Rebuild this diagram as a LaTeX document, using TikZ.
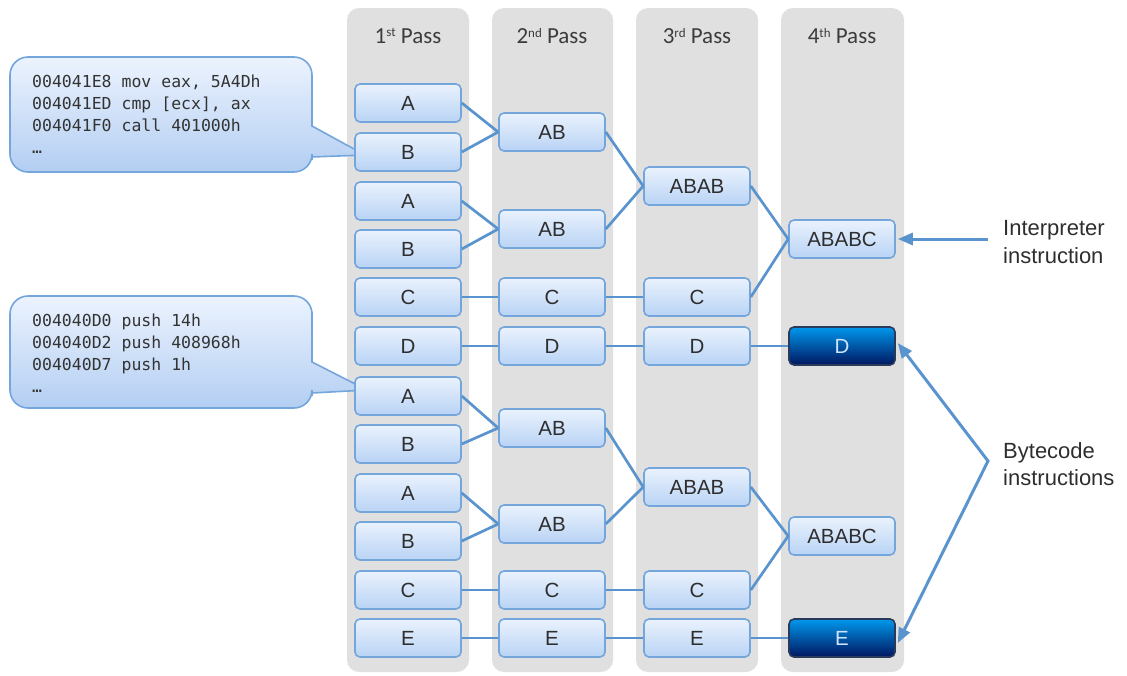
\documentclass[tikz,border=0pt]{standalone}
\usepackage{fontspec}
\setmainfont{Liberation Sans}
\newfontfamily\hdrfont{Carlito}
\newfontfamily\codefont{DejaVu Sans Mono}
\usetikzlibrary{arrows.meta}
\definecolor{colgray}{HTML}{E0E0E0}
\definecolor{boxtop}{HTML}{EAF2FD}
\definecolor{boxbot}{HTML}{B9D3F5}
\definecolor{boxborder}{HTML}{74A6DC}
\definecolor{linkcol}{HTML}{5A94CE}
\definecolor{darktop}{HTML}{0098EC}
\definecolor{darkbot}{HTML}{001660}
\definecolor{darkborder}{HTML}{2A3A5A}
\definecolor{darktext}{HTML}{CFE4FF}
\definecolor{textgray}{HTML}{2E2E2E}
\definecolor{hdrgray}{HTML}{3C3C3C}
\definecolor{bubtop}{HTML}{ECF3FE}
\definecolor{bubbot}{HTML}{B3CEF2}
\newcommand{\passsup}[1]{\raisebox{0.62ex}{\fontsize{13}{13}\selectfont #1}}
\tikzset{
  passcol/.style={fill=colgray, rounded corners=12},
  hdr/.style={font=\hdrfont\fontsize{23}{26}\selectfont, text=hdrgray, inner sep=0},
  pbox/.style={draw=boxborder, line width=1.6, rounded corners=5,
    minimum width=106, minimum height=38, inner sep=0,
    top color=boxtop, bottom color=boxbot,
    font=\fontsize{20.5}{24}\selectfont, text=textgray},
  dbox/.style={pbox, draw=darkborder, top color=darktop, bottom color=darkbot, text=darktext},
  link/.style={draw=linkcol, line width=2.7},
  arrowline/.style={draw=linkcol, line width=3, >={Triangle[length=15, width=12]}},
  bubble/.style={draw=boxborder, line width=1.6, top color=bubtop, bottom color=bubbot},
  code/.style={font=\codefont\fontsize{16.5}{22}\selectfont, text=black!80, align=left, inner sep=0, anchor=north west},
  lbl/.style={font=\fontsize{22}{27.5}\selectfont, text=textgray, align=left, inner sep=0, anchor=west}
}
\begin{document}
\begin{tikzpicture}[x=1pt,y=-1pt]
\useasboundingbox (0,0) rectangle (1127,675);
% columns
\fill[passcol] (347,8) rectangle (469,672);
\fill[passcol] (492,8) rectangle (613,672);
\fill[passcol] (636,8) rectangle (758,672);
\fill[passcol] (781,8) rectangle (904,672);
\node[hdr] (h1) at (408,36) {1\passsup{st} Pass};
\node[hdr] (h2) at (552,36) {2\passsup{nd} Pass};
\node[hdr] (h3) at (697,36) {3\passsup{rd} Pass};
\node[hdr] (h4) at (842,36) {4\passsup{th} Pass};
% bubbles
\path[bubble] (10,110) [rounded corners=18] -- (10,57) -- (312,57) -- (312,95) [sharp corners] -- (312,126) -- (365,155) -- (312,157) -- (312,160) [rounded corners=18] -- (312,172) -- (10,172) -- cycle;
\node[code] (code1) at (32,74.5) {004041E8 mov eax, 5A4Dh\\004041ED cmp [ecx], ax\\004041F0 call 401000h\\…};
\path[bubble] (10,350) [rounded corners=18] -- (10,296) -- (312,296) -- (312,330) [sharp corners] -- (312,362) -- (367,390) -- (312,393) -- (312,396) [rounded corners=18] -- (312,408) -- (10,408) -- cycle;
\node[code] (code2) at (32,313.5) {004040D0 push 14h\\004040D2 push 408968h\\004040D7 push 1h\\…};
% column 1
\node[pbox] (a1) at (408,103) {A};
\node[pbox] (a2) at (408,152) {B};
\node[pbox] (a3) at (408,201) {A};
\node[pbox] (a4) at (408,249) {B};
\node[pbox] (a5) at (408,297) {C};
\node[pbox] (a6) at (408,346) {D};
\node[pbox] (a7) at (408,396) {A};
\node[pbox] (a8) at (408,444) {B};
\node[pbox] (a9) at (408,493) {A};
\node[pbox] (a10) at (408,541) {B};
\node[pbox] (a11) at (408,590) {C};
\node[pbox] (a12) at (408,638) {E};
% column 2
\node[pbox] (b1) at (552,132) {AB};
\node[pbox] (b2) at (552,229) {AB};
\node[pbox] (b3) at (552,297) {C};
\node[pbox] (b4) at (552,346) {D};
\node[pbox] (b5) at (552,428) {AB};
\node[pbox] (b6) at (552,524) {AB};
\node[pbox] (b7) at (552,590) {C};
\node[pbox] (b8) at (552,638) {E};
% column 3
\node[pbox] (c1) at (697,186) {ABAB};
\node[pbox] (c2) at (697,297) {C};
\node[pbox] (c3) at (697,346) {D};
\node[pbox] (c4) at (697,487) {ABAB};
\node[pbox] (c5) at (697,590) {C};
\node[pbox] (c6) at (697,638) {E};
% column 4
\node[pbox] (d1) at (842,239) {ABABC};
\node[dbox] (d2) at (842,346) {D};
\node[pbox] (d3) at (842,536) {ABABC};
\node[dbox] (d4) at (842,638) {E};
% links
\draw[link] (a1.east) -- (b1.west);
\draw[link] (a2.east) -- (b1.west);
\draw[link] (a3.east) -- (b2.west);
\draw[link] (a4.east) -- (b2.west);
\draw[link] (a5.east) -- (b3.west);
\draw[link] (a6.east) -- (b4.west);
\draw[link] (a7.east) -- (b5.west);
\draw[link] (a8.east) -- (b5.west);
\draw[link] (a9.east) -- (b6.west);
\draw[link] (a10.east) -- (b6.west);
\draw[link] (a11.east) -- (b7.west);
\draw[link] (a12.east) -- (b8.west);
\draw[link] (b1.east) -- (c1.west);
\draw[link] (b2.east) -- (c1.west);
\draw[link] (b3.east) -- (c2.west);
\draw[link] (b4.east) -- (c3.west);
\draw[link] (b5.east) -- (c4.west);
\draw[link] (b6.east) -- (c4.west);
\draw[link] (b7.east) -- (c5.west);
\draw[link] (b8.east) -- (c6.west);
\draw[link] (c1.east) -- (d1.west);
\draw[link] (c2.east) -- (d1.west);
\draw[link] (c3.east) -- (d2.west);
\draw[link] (c4.east) -- (d3.west);
\draw[link] (c5.east) -- (d3.west);
\draw[link] (c6.east) -- (d4.west);
% labels
\node[lbl] (interp) at (1003,242) {Interpreter\\instruction};
\node[lbl] (bytec) at (1003,464) {Bytecode\\instructions};
\coordinate (ia) at (988,239);
\coordinate (bv) at (988,461);
\draw[arrowline, ->] (ia) -- ([xshift=2]d1.east);
\draw[arrowline, <->] ([xshift=2,yshift=3]d2.east) -- (bv) -- ([xshift=2,yshift=-5]d4.east);
\end{tikzpicture}
\end{document}
